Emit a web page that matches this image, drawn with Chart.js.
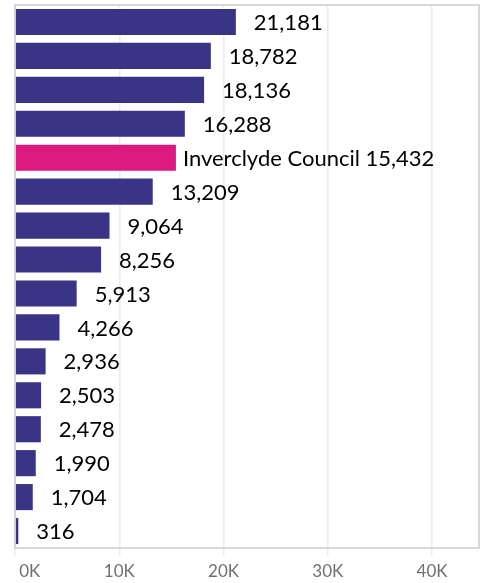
<!DOCTYPE html>
<html>
<head>
<meta charset="utf-8">
<script src="https://cdn.jsdelivr.net/npm/chart.js@4"></script>
<style>
  html, body { margin: 0; padding: 0; background: #fff; }
  #wrap { width: 482px; height: 583px; position: relative; }
</style>
</head>
<body>
<div id="wrap"><canvas id="chart"></canvas></div>
<script>
// only the highlighted council is named in the picture
const councils = ['', '', '', '', 'Inverclyde Council', '', '', '', '', '', '', '', '', '', '', ''];
const values = [21181, 18782, 18136, 16288, 15432, 13209, 9064, 8256, 5913, 4266, 2936, 2503, 2478, 1990, 1704, 316];
const highlight = 'Inverclyde Council';
const tickValues = [0, 10000, 20000, 30000, 40000];

const navy = '#393486';
const pink = '#dc1a80';

const barColors = councils.map(c => c === highlight ? pink : navy);

// frame round the plot area
const framePlugin = {
    id: 'frame',
    afterDatasetsDraw(chart) {
        const a = chart.chartArea;
        const ctx = chart.ctx;
        ctx.save();
        ctx.strokeStyle = '#cccccc';
        ctx.lineWidth = 1.5;
        ctx.strokeRect(a.left, a.top, a.right - a.left, a.bottom - a.top);
        ctx.restore();
    }
};

// value labels to the right of each bar
const labelPlugin = {
    id: 'barLabels',
    afterDatasetsDraw(chart) {
        const ctx = chart.ctx;
        const meta = chart.getDatasetMeta(0);
        ctx.save();
        ctx.font = '22px Lato';
        ctx.fillStyle = '#000';
        ctx.textBaseline = 'middle';
        ctx.textAlign = 'left';
        meta.data.forEach((bar, i) => {
            let txt = values[i].toLocaleString('en-US');
            if (councils[i]) txt = councils[i] + ' ' + txt;
            ctx.fillText(txt, bar.x + (councils[i] ? 7 : 18), bar.y + 1);
        });
        ctx.restore();
    }
};

new Chart(document.getElementById('chart'), {
    type: 'bar',
    data: {
        labels: councils,
        datasets: [{
            data: values,
            backgroundColor: barColors,
            barPercentage: 0.77,
            categoryPercentage: 1
        }]
    },
    options: {
        indexAxis: 'y',
        responsive: true,
        maintainAspectRatio: false,
        animation: false,
        layout: { padding: { left: 15, top: 5, right: 3, bottom: 0 } },
        plugins: { legend: { display: false }, tooltip: { enabled: false } },
        scales: {
            x: {
                min: 0,
                max: 44500,
                afterBuildTicks: s => { s.ticks = tickValues.map(v => ({ value: v })); },
                afterFit: s => { s.height = 35; s.paddingLeft = 0; s.paddingRight = 0; },
                grid: { color: '#ececec', lineWidth: 1.5, tickLength: 8 },
                border: { display: false },
                ticks: {
                    padding: 5,
                    color: '#707070',
                    font: { family: 'Lato', size: 17 },
                    maxRotation: 0,
                    // first label sits to the right of its tick, as in the reference
                    callback: v => (v === 0 ? '\u2007\u2007\u2007' : '') + (v / 1000) + 'K'
                }
            },
            y: { display: false }
        }
    },
    plugins: [framePlugin, labelPlugin]
});
</script>
</body>
</html>
